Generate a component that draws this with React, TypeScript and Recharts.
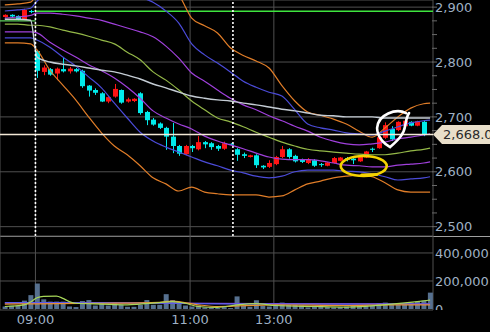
import { ComposedChart, Bar, Line, XAxis, YAxis, CartesianGrid, ReferenceLine, ReferenceDot } from "recharts";

// 5-minute candles: 0-4 previous day tail, 5-35 morning session, 36-65 afternoon
const candleOpen = [2882, 2886, 2884, 2877, 2893, 2820, 2782, 2787, 2779, 2787, 2783, 2787, 2784, 2757, 2749, 2743, 2728, 2737, 2749, 2728, 2729, 2743, 2709, 2695, 2688, 2680, 2664, 2647, 2632, 2647, 2641, 2654, 2652, 2647, 2642, 2651, 2641, 2632, 2627, 2630, 2611, 2609, 2614, 2627, 2641, 2629, 2622, 2616, 2621, 2614, 2611, 2616, 2620, 2625, 2624, 2619, 2626, 2642, 2643, 2662, 2678, 2676, 2683, 2691, 2684, 2691];
const candleHigh = [2887, 2887, 2885, 2897, 2895, 2822, 2794, 2789, 2790, 2809, 2791, 2789, 2786, 2758, 2752, 2745, 2738, 2760, 2750, 2735, 2734, 2745, 2711, 2698, 2690, 2682, 2689, 2649, 2649, 2649, 2665, 2656, 2654, 2649, 2655, 2652, 2643, 2635, 2631, 2632, 2612, 2621, 2629, 2647, 2643, 2631, 2624, 2625, 2623, 2616, 2618, 2627, 2627, 2627, 2626, 2629, 2638, 2644, 2664, 2690, 2683, 2692, 2697, 2692, 2693, 2693];
const candleLow = [2881, 2882, 2876, 2876, 2889, 2771, 2776, 2775, 2767, 2781, 2779, 2781, 2753, 2737, 2740, 2727, 2725, 2735, 2724, 2726, 2727, 2704, 2685, 2684, 2678, 2640, 2634, 2629, 2630, 2636, 2639, 2643, 2640, 2638, 2640, 2649, 2620, 2625, 2626, 2607, 2605, 2607, 2612, 2625, 2624, 2617, 2616, 2614, 2609, 2609, 2610, 2615, 2619, 2619, 2614, 2618, 2625, 2636, 2642, 2660, 2656, 2674, 2682, 2683, 2683, 2665];
const candleClose = [2886, 2883, 2877, 2895, 2891, 2784, 2790, 2777, 2788, 2783, 2788, 2783, 2756, 2748, 2744, 2728, 2736, 2751, 2726, 2732, 2733, 2707, 2694, 2686, 2680, 2664, 2647, 2633, 2647, 2643, 2654, 2650, 2645, 2642, 2652, 2650, 2631, 2629, 2630, 2612, 2608, 2616, 2627, 2641, 2627, 2619, 2618, 2623, 2611, 2613, 2617, 2625, 2626, 2622, 2621, 2628, 2637, 2640, 2663, 2685, 2659, 2691, 2693, 2684, 2692, 2668];

// volume, thousands of shares
const volumeK = [18, 23, 25, 60, 99, 182, 69, 53, 53, 53, 18, 14, 57, 64, 25, 46, 25, 48, 30, 16, 16, 30, 64, 30, 30, 106, 64, 41, 25, 18, 25, 12, 12, 7, 14, 7, 90, 23, 16, 62, 23, 18, 39, 46, 30, 30, 25, 12, 23, 18, 14, 12, 14, 18, 25, 25, 25, 25, 41, 46, 30, 34, 41, 46, 53, 60, 117];

// bollinger bands + vwap, read at every other bar
const bandIdx = [0, 2, 4, 5, 7, 9, 11, 13, 15, 17, 19, 21, 23, 25, 27, 29, 31, 33, 35, 37, 39, 41, 43, 45, 47, 49, 51, 53, 55, 57, 59, 61, 63, 65, 66];
const upper3 = [2904, 2906, 2909, 2925, 2945, 2955, 2960, 2962, 2962, 2960, 2957, 2953, 2947, 2938, 2922, 2880, 2866, 2853, 2826, 2812, 2802, 2789, 2757, 2729, 2709, 2703, 2696, 2687, 2674, 2663, 2680, 2700, 2716, 2724, 2725];
const upper2 = [2893, 2895, 2898, 2911, 2925, 2932, 2935, 2935, 2933, 2930, 2925, 2918, 2909, 2893, 2871, 2833, 2813, 2798, 2782, 2765, 2754, 2745, 2738, 2713, 2687, 2680, 2676, 2671, 2669, 2667, 2674, 2682, 2689, 2693, 2694];
const upper1 = [2880, 2882, 2885, 2889, 2889, 2887, 2884, 2880, 2876, 2869, 2862, 2855, 2846, 2829, 2807, 2780, 2765, 2749, 2734, 2722, 2713, 2702, 2693, 2683, 2674, 2663, 2656, 2651, 2649, 2651, 2654, 2660, 2663, 2667, 2669];
const midLine = [2869, 2869, 2867, 2867, 2864, 2858, 2853, 2847, 2840, 2833, 2818, 2804, 2782, 2767, 2749, 2729, 2713, 2698, 2691, 2682, 2672, 2663, 2654, 2647, 2641, 2638, 2636, 2634, 2632, 2631, 2631, 2634, 2638, 2641, 2643];
const lower1 = [2855, 2855, 2855, 2853, 2836, 2822, 2809, 2795, 2784, 2771, 2754, 2734, 2711, 2698, 2687, 2678, 2665, 2656, 2649, 2642, 2634, 2627, 2623, 2622, 2622, 2620, 2616, 2612, 2611, 2609, 2609, 2612, 2614, 2616, 2618];
const lower2 = [2844, 2844, 2844, 2840, 2827, 2809, 2793, 2773, 2753, 2725, 2698, 2672, 2656, 2645, 2636, 2627, 2618, 2611, 2603, 2598, 2592, 2589, 2592, 2600, 2603, 2603, 2603, 2601, 2600, 2596, 2591, 2585, 2587, 2589, 2591];
const lower3 = [2835, 2835, 2833, 2822, 2785, 2758, 2731, 2700, 2671, 2647, 2631, 2611, 2589, 2578, 2565, 2572, 2563, 2560, 2558, 2558, 2558, 2554, 2556, 2567, 2578, 2583, 2589, 2592, 2594, 2591, 2580, 2567, 2563, 2563, 2563];
const vwap = [2878, 2878, 2876, 2809, 2800, 2796, 2793, 2789, 2785, 2782, 2776, 2769, 2760, 2753, 2745, 2738, 2734, 2731, 2729, 2725, 2722, 2718, 2714, 2711, 2707, 2703, 2702, 2700, 2700, 2700, 2698, 2698, 2698, 2698, 2698];

// volume moving averages (thousands)
const volShortIdx = [0, 3, 4, 5, 6, 8, 9, 10, 11, 15, 19, 21, 24, 26, 28, 30, 33, 36, 39, 42, 48, 53, 60, 64, 66];
const volShort = [18, 30, 50, 80, 90, 92, 76, 53, 41, 35, 30, 35, 46, 53, 41, 18, 12, 30, 39, 25, 18, 14, 35, 53, 64];
const volMidIdx = [0, 5, 15, 24, 26, 30, 33, 42, 53, 60, 66];
const volMid = [35, 37, 41, 48, 57, 30, 18, 30, 25, 30, 30];
const volLongIdx = [0, 15, 33, 50, 66];
const volLong = [46, 46, 37, 35, 35];
const volLongerIdx = [0, 20, 40, 66];
const volLonger = [42, 44, 38, 36];

const prevCloseOld = 2875;
const prevClose = 2892.5;
const lastPrice = 2668;
const dayStart = 4.75;
const lunchBreak = 35.4;

const timeTicks = [4.75, 28.75, 41.75];
const timeLabels = ["09:00", "11:00", "13:00"];
const priceTicks = [2500, 2525, 2550, 2575, 2600, 2625, 2650, 2675, 2700, 2725, 2750, 2775, 2800, 2825, 2850, 2875, 2900];
const priceGrid = [2500, 2600, 2700, 2800, 2900];
const volTicks = [0, 200, 400];
const volGrid = [200, 400];

// hand-drawn marks on the screenshot
const whiteMark = { i: 60.1, price: 2676 };
const yellowMark = { i: 55.7, price: 2610.5 };

const X_DOMAIN: [number, number] = [-0.75, 66.45];
const FONT = "DejaVu Sans";
const LABEL = "#9fb0c4";

type Row = { [k: string]: any };
const rows: Row[] = volumeK.map((v, i) => ({ i, vol: v }));
candleOpen.forEach((o, i) => {
  rows[i].open = o;
  rows[i].high = candleHigh[i];
  rows[i].low = candleLow[i];
  rows[i].close = candleClose[i];
  rows[i].range = [candleLow[i], candleHigh[i]];
});
const put = (key: string, idx: number[], vals: number[]) =>
  idx.forEach((d, k) => {
    rows[d][key] = vals[k];
  });
put("u3", bandIdx, upper3);
put("u2", bandIdx, upper2);
put("u1", bandIdx, upper1);
put("mid", bandIdx, midLine);
put("l1", bandIdx, lower1);
put("l2", bandIdx, lower2);
put("l3", bandIdx, lower3);
put("vwap", bandIdx, vwap);
put("vs", volShortIdx, volShort);
put("vm", volMidIdx, volMid);
put("vl", volLongIdx, volLong);
put("vll", volLongerIdx, volLonger);

const Candle = (props: any) => {
  const { x, y, width, height, payload } = props;
  if (!payload || payload.open == null || x == null) return null;
  const { open, close, high, low } = payload;
  const color = close >= open ? "#ff1414" : "#00eaea";
  const top = Math.min(y, y + height);
  const h = Math.abs(height);
  const ratio = high > low ? h / (high - low) : 0;
  const yOf = (p: number) => top + (high - p) * ratio;
  const cx = Math.round(x + width / 2) + 0.5;
  const bodyTop = yOf(Math.max(open, close));
  const bodyH = Math.max(1, Math.abs(open - close) * ratio);
  return (
    <g>
      <line x1={cx} x2={cx} y1={top} y2={top + h} stroke={color} strokeWidth={1} />
      <rect x={cx - 2.5} y={bodyTop} width={5} height={bodyH} fill={color} />
    </g>
  );
};

const PriceTick = (props: any) => {
  const { x, y, payload } = props;
  const v = payload.value;
  return (
    <g>
      <line x1={x - 1} x2={x + 4} y1={y} y2={y} stroke="#6a6a6a" />
      {v % 100 === 0 && (
        <text x={x + 2} y={y} dy={4.6} fontSize={13} fontFamily={FONT} fill={LABEL}>
          {v.toLocaleString("en-US")}
        </text>
      )}
    </g>
  );
};

const VolTick = (props: any) => {
  const { x, y, payload } = props;
  const v = payload.value;
  return (
    <g>
      <text x={x + 2} y={y} dy={4.6} fontSize={13} fontFamily={FONT} fill={LABEL}>
        {(v * 1000).toLocaleString("en-US")}
      </text>
      {v === 0 && <rect x={x} y={y + 1} width={60} height={14} fill="#000" />}
    </g>
  );
};

const TimeTick = (props: any) => {
  const { x, y, payload } = props;
  const k = timeTicks.indexOf(payload.value);
  return (
    <text x={x} y={y} dy={14} textAnchor="middle" fontSize={13} fontFamily={FONT} fill={LABEL}>
      {timeLabels[k]}
    </text>
  );
};

const PriceTag = (props: any) => {
  const { cx, cy } = props;
  if (cx == null || cy == null) return <g />;
  return (
    <g>
      <polygon
        points={`${cx},${cy} ${cx + 9},${cy - 9.5} ${cx + 70},${cy - 9.5} ${cx + 70},${cy + 9.5} ${cx + 9},${cy + 9.5}`}
        fill="#e9dfca"
      />
      <text x={cx + 10} y={cy} dy={4.6} fontSize={13} fontFamily={FONT} fill="#2a2a2a">
        {lastPrice.toLocaleString("en-US", { minimumFractionDigits: 1 })}
      </text>
    </g>
  );
};

const WhiteLoop = (props: any) => {
  const { cx, cy } = props;
  if (cx == null) return <g />;
  const d = `M ${cx + 14} ${cy - 17} C ${cx + 4} ${cy - 22}, ${cx - 14} ${cy - 16}, ${cx - 15} ${cy - 2} C ${cx - 15} ${cy + 8}, ${cx - 6} ${cy + 15}, ${cx - 2} ${cy + 17} C ${cx + 6} ${cy + 10}, ${cx + 12} ${cy + 4}, ${cx + 13} ${cy - 4} C ${cx + 14} ${cy - 10}, ${cx + 15} ${cy - 14}, ${cx + 17} ${cy - 17}`;
  return <path d={d} fill="none" stroke="#ffffff" strokeWidth={2.6} strokeLinecap="round" />;
};

const YellowLoop = (props: any) => {
  const { cx, cy } = props;
  if (cx == null) return <g />;
  return (
    <g fill="none" stroke="#f4d200" strokeLinecap="round">
      <ellipse cx={cx} cy={cy} rx={23} ry={10} strokeWidth={2.6} />
      <path d={`M ${cx - 2} ${cy + 9} L ${cx + 13} ${cy + 8.5}`} strokeWidth={3.2} />
    </g>
  );
};

const bandLine = (key: string, color: string, width = 1.2) => (
  <Line
    key={key}
    dataKey={key}
    type="monotone"
    stroke={color}
    strokeWidth={width}
    dot={false}
    activeDot={false}
    connectNulls
    isAnimationActive={false}
  />
);

export default function App() {
  return (
    <div style={{ position: "absolute", left: 0, top: 0, width: 490, height: 332, background: "#000", overflow: "hidden" }}>
      <ComposedChart width={490} height={236} data={rows} margin={{ top: 0, right: 0, bottom: 0, left: 0 }}>
        <XAxis type="number" dataKey="i" domain={X_DOMAIN} allowDataOverflow ticks={timeTicks} hide height={0} />
        <YAxis
          orientation="right"
          type="number"
          domain={[2483, 2913]}
          allowDataOverflow
          ticks={priceTicks}
          interval={0}
          tick={PriceTick}
          tickLine={false}
          axisLine={false}
          tickSize={0}
          tickMargin={0}
          width={57}
        />
        <YAxis yAxisId="grid" orientation="right" type="number" domain={[2483, 2913]} allowDataOverflow ticks={priceGrid} interval={0} hide width={0} />
        <CartesianGrid yAxisId="grid" stroke="#505050" />
        <ReferenceLine segment={[{ x: X_DOMAIN[0], y: prevCloseOld }, { x: dayStart, y: prevCloseOld }]} stroke="#5ccf5c" strokeWidth={1.3} />
        <ReferenceLine segment={[{ x: dayStart, y: prevClose }, { x: X_DOMAIN[1], y: prevClose }]} stroke="#3ee43e" strokeWidth={1.3} />
        {bandLine("u3", "#e07d28")}
        {bandLine("l3", "#e07d28")}
        {bandLine("u2", "#4b4bd8")}
        {bandLine("l2", "#4b4bd8")}
        {bandLine("u1", "#a040dc")}
        {bandLine("l1", "#a040dc")}
        {bandLine("mid", "#94b848")}
        {bandLine("vwap", "#c4ccd4", 1.4)}
        <Bar dataKey="range" barSize={5} shape={(p: any) => <Candle {...p} />} activeBar={false} isAnimationActive={false} />
        <ReferenceLine y={lastPrice} stroke="#f2e8d5" strokeWidth={1.5} />
        <ReferenceLine x={dayStart} stroke="#ffffff" strokeWidth={1.6} strokeDasharray="2 2" />
        <ReferenceLine x={lunchBreak} stroke="#ffffff" strokeWidth={1.6} strokeDasharray="2 2" />
        <ReferenceDot x={whiteMark.i} y={whiteMark.price} r={1} shape={(p: any) => <WhiteLoop {...p} />} />
        <ReferenceDot x={yellowMark.i} y={yellowMark.price} r={1} shape={(p: any) => <YellowLoop {...p} />} />
        <ReferenceDot x={X_DOMAIN[1]} y={lastPrice} r={1} shape={(p: any) => <PriceTag {...p} />} />
      </ComposedChart>
      <div style={{ position: "absolute", left: 0, top: 236, width: 490, height: 1, background: "#a0a0a0" }} />
      <div style={{ position: "absolute", left: 0, top: 236 }}>
        <ComposedChart width={490} height={96} data={rows} margin={{ top: 0, right: 0, bottom: 0, left: 0 }}>
          <XAxis
            type="number"
            dataKey="i"
            domain={X_DOMAIN}
            allowDataOverflow
            ticks={timeTicks}
            interval={0}
            tick={TimeTick}
            tickLine={false}
            axisLine={false}
            tickSize={0}
            tickMargin={0}
            height={22}
          />
          <YAxis
            orientation="right"
            type="number"
            domain={[-7, 521]}
            allowDataOverflow
            ticks={volTicks}
            interval={0}
            tick={VolTick}
            tickLine={false}
            axisLine={false}
            tickSize={0}
            tickMargin={0}
            width={57}
          />
          <YAxis yAxisId="grid" orientation="right" type="number" domain={[-7, 521]} allowDataOverflow ticks={volGrid} interval={0} hide width={0} />
          <CartesianGrid yAxisId="grid" stroke="#505050" />
          <Bar dataKey="vol" barSize={5} fill="#56708f" activeBar={false} isAnimationActive={false} />
          {bandLine("vll", "#8a4cc8", 1.2)}
          {bandLine("vl", "#5a5af0", 1.2)}
          {bandLine("vm", "#e89030", 1.2)}
          {bandLine("vs", "#a8d858", 1.2)}
        </ComposedChart>
      </div>
    </div>
  );
}
